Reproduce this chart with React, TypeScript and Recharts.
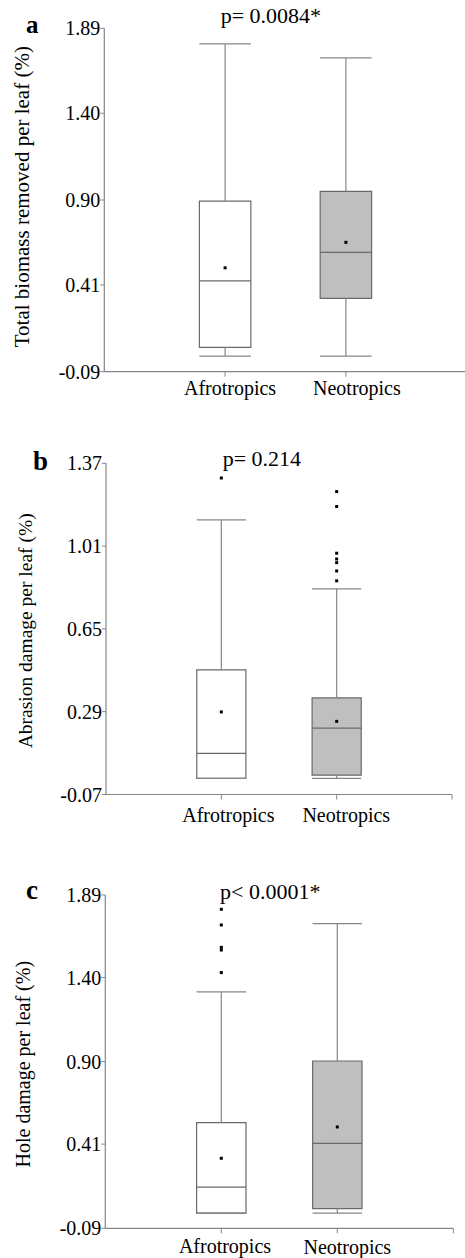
import React from 'react';
import { ComposedChart, XAxis, YAxis, ReferenceArea, ReferenceLine, Scatter } from 'recharts';

const FONT = '"Liberation Serif", "Times New Roman", serif';
const AXIS = '#868686';
const BOX_STROKE = '#6a6a6a';
const FILLS = ['#ffffff', '#bfbfbf'];

// groups on the x axis
const groups = ['Afrotropics', 'Neotropics'];
const groupPos = [1, 2];
const HALF = 0.213;

// a: total biomass removed per leaf
const biomassTicks = [-0.09, 0.41, 0.9, 1.4, 1.89];
const biomassLow = [0.0, 0.0];
const biomassQ1 = [0.05, 0.333];
const biomassMedian = [0.434, 0.598];
const biomassQ3 = [0.894, 0.95];
const biomassHigh = [1.8, 1.719];
const biomassMean = [0.509, 0.656];
const biomassOutliers = [[], []];

// b: abrasion damage per leaf
const abrasionTicks = [-0.07, 0.29, 0.65, 1.01, 1.37];
const abrasionLow = [0.0, 0.0];
const abrasionQ1 = [0.0, 0.014];
const abrasionMedian = [0.109, 0.219];
const abrasionQ3 = [0.472, 0.35];
const abrasionHigh = [1.124, 0.824];
const abrasionMean = [0.289, 0.248];
const abrasionOutliers = [[1.306], [1.247, 1.182, 0.979, 0.954, 0.938, 0.902, 0.859]];

// c: hole damage per leaf
const holeTicks = [-0.09, 0.41, 0.9, 1.4, 1.89];
const holeLow = [0.0, 0.0];
const holeQ1 = [0.0, 0.027];
const holeMedian = [0.154, 0.415];
const holeQ3 = [0.538, 0.904];
const holeHigh = [1.314, 1.72];
const holeMean = [0.326, 0.512];
const holeOutliers = [[1.805, 1.712, 1.579, 1.563, 1.429], []];

const panels = [
  {
    letter: 'a', pText: 'p= 0.0084*', yLabel: 'Total biomass removed per leaf (%)',
    ticks: biomassTicks, low: biomassLow, q1: biomassQ1, median: biomassMedian, q3: biomassQ3,
    high: biomassHigh, mean: biomassMean, outliers: biomassOutliers,
    top: 0, plotTop: 28.3, plotBottom: 371.7, plotLeft: 104.3, plotRight: 466.7,
    tickDx: [5, 11], tickDy: [18.3, 18.3],
    letterX: 26, letterY: 33, letterSize: 25,
    pX: 220.7, pY: 23, labelX: 29, labelY: 196.7, labelSize: 21,
  },
  {
    letter: 'b', pText: 'p= 0.214', yLabel: 'Abrasion damage per leaf (%)',
    ticks: abrasionTicks, low: abrasionLow, q1: abrasionQ1, median: abrasionMedian, q3: abrasionQ3,
    high: abrasionHigh, mean: abrasionMean, outliers: abrasionOutliers,
    top: 430, plotTop: 463.3, plotBottom: 794.5, plotLeft: 106, plotRight: 452,
    tickDx: [7, 9.6], tickDy: [22.2, 22.2],
    letterX: 33, letterY: 470, letterSize: 27,
    pX: 222.7, pY: 466, labelX: 32, labelY: 630.8, labelSize: 19.5,
  },
  {
    letter: 'c', pText: 'p< 0.0001*', yLabel: 'Hole damage per leaf (%)',
    ticks: holeTicks, low: holeLow, q1: holeQ1, median: holeMedian, q3: holeQ3,
    high: holeHigh, mean: holeMean, outliers: holeOutliers,
    top: 860, plotTop: 895, plotBottom: 1228.3, plotLeft: 105.3, plotRight: 453.3,
    tickDx: [3.7, 10], tickDy: [19.4, 20.6],
    letterX: 26, letterY: 899, letterSize: 27,
    pX: 220, pY: 899.3, labelX: 30, labelY: 1064.2, labelSize: 20,
  },
];

const Dot = (props: any) => {
  const { cx, cy } = props;
  if (cx == null || cy == null) return null;
  return <rect x={cx - 1.5} y={cy - 1.5} width={3} height={3} fill="#000" />;
};

function BoxPanel({ p }: { p: any }) {
  const W = 470;
  const H = p.plotBottom - p.top + 60;
  const margin = {
    top: p.plotTop - p.top,
    right: W - p.plotRight,
    left: 0,
    bottom: H - (p.plotBottom - p.top) - 30,
  };

  const points: { x: number; y: number }[] = [];
  groupPos.forEach((x, i) => {
    points.push({ x, y: p.mean[i] });
    p.outliers[i].forEach((y: number) => points.push({ x, y }));
  });

  const renderTick = (props: any) => {
    const { x, y, payload } = props;
    const i = groupPos.indexOf(payload.value);
    if (i < 0) return <g />;
    return (
      <text x={x + p.tickDx[i]} y={y + p.tickDy[i]} textAnchor="middle" fontSize={20} fontFamily={FONT} fill="#000">
        {groups[i]}
      </text>
    );
  };

  return (
    <div style={{ position: 'absolute', left: 0, top: p.top, width: W, height: H }}>
      <ComposedChart width={W} height={H} margin={margin}>
        <XAxis
          type="number"
          dataKey="x"
          domain={[0, 3]}
          ticks={[1, 2, 3]}
          allowDataOverflow
          height={30}
          tickSize={5}
          tickMargin={0}
          axisLine={{ stroke: AXIS, strokeWidth: 1.2 }}
          tickLine={{ stroke: AXIS }}
          tick={renderTick}
        />
        <YAxis
          type="number"
          dataKey="y"
          domain={[p.ticks[0], p.ticks[p.ticks.length - 1]]}
          ticks={p.ticks}
          allowDataOverflow
          width={p.plotLeft}
          tickSize={4}
          tickMargin={0}
          tickFormatter={(v: number) => v.toFixed(2)}
          axisLine={{ stroke: AXIS, strokeWidth: 1.2 }}
          tickLine={{ stroke: AXIS }}
          tick={{ fill: '#000', fontSize: 20, fontFamily: FONT }}
        />
        {groupPos.map((x, i) => (
          <ReferenceArea
            key={`box${i}`}
            x1={x - HALF}
            x2={x + HALF}
            y1={p.q1[i]}
            y2={p.q3[i]}
            fill={FILLS[i]}
            fillOpacity={1}
            stroke={BOX_STROKE}
            strokeWidth={1.2}
          />
        ))}
        {groupPos.map((x, i) => (
          <ReferenceLine key={`med${i}`} segment={[{ x: x - HALF, y: p.median[i] }, { x: x + HALF, y: p.median[i] }]} stroke={BOX_STROKE} strokeWidth={1.2} />
        ))}
        {groupPos.map((x, i) => (
          <ReferenceLine key={`wu${i}`} segment={[{ x, y: p.q3[i] }, { x, y: p.high[i] }]} stroke={AXIS} strokeWidth={1.2} />
        ))}
        {groupPos.map((x, i) => (
          <ReferenceLine key={`wl${i}`} segment={[{ x, y: p.low[i] }, { x, y: p.q1[i] }]} stroke={AXIS} strokeWidth={1.2} />
        ))}
        {groupPos.map((x, i) => (
          <ReferenceLine key={`cu${i}`} segment={[{ x: x - HALF, y: p.high[i] }, { x: x + HALF, y: p.high[i] }]} stroke={AXIS} strokeWidth={1.2} />
        ))}
        {groupPos.map((x, i) => (
          <ReferenceLine key={`cl${i}`} segment={[{ x: x - HALF, y: p.low[i] }, { x: x + HALF, y: p.low[i] }]} stroke={AXIS} strokeWidth={1.2} />
        ))}
        <Scatter data={points} dataKey="y" shape={Dot} isAnimationActive={false} />
      </ComposedChart>
    </div>
  );
}

export default function App() {
  return (
    <div style={{ position: 'absolute', left: 0, top: 0, width: 465, height: 1258, background: '#fff', overflow: 'hidden' }}>
      {panels.map((p) => (
        <BoxPanel key={p.letter} p={p} />
      ))}
      <svg width={465} height={1258} style={{ position: 'absolute', left: 0, top: 0, pointerEvents: 'none' }}>
        {panels.map((p) => (
          <g key={p.letter} fontFamily={FONT} fill="#000">
            <text x={p.letterX} y={p.letterY} fontSize={p.letterSize} fontWeight="bold">{p.letter}</text>
            <text x={p.pX} y={p.pY} fontSize={22}>{p.pText}</text>
            <text transform={`translate(${p.labelX},${p.labelY}) rotate(-90)`} textAnchor="middle" fontSize={p.labelSize}>
              {p.yLabel}
            </text>
          </g>
        ))}
      </svg>
    </div>
  );
}
